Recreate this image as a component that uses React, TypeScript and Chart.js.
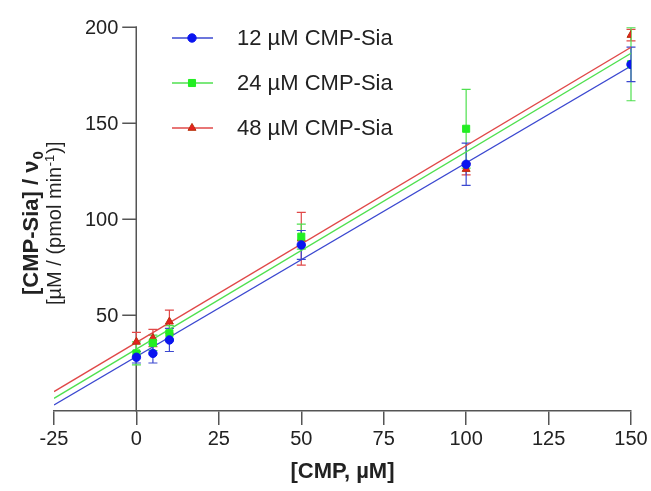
import { useEffect, useRef } from "react";
import { Chart, registerables } from "chart.js";

Chart.register(...registerables);

// ---- data ----
const concentrations = [0, 5, 10, 50, 100, 150];
const seriesLabels = ["12 µM CMP-Sia", "24 µM CMP-Sia", "48 µM CMP-Sia"];

const values12 = [28, 30, 37, 86.5, 128.5, 180.5];
const errors12 = [3, 5, 6, 7.5, 11, 9];
const values24 = [30, 35.5, 40.5, 90.8, 147, 180.6];
const errors24 = [6, 4, 4, 6.5, 20.5, 19];
const values48 = [36, 38, 46.5, 89.7, 126, 195.8];
const errors48 = [5, 4.5, 6, 13.7, 3, 3];

const fitX = [-25, 150];
const fit12 = [3.1, 179.7];
const fit24 = [6.6, 186.3];
const fit48 = [10.1, 189.4];

const xTicks = [-25, 0, 25, 50, 75, 100, 125, 150];
const yTicks = [50, 100, 150, 200];
const yAxisCrossesAt = 0;

const xTitle = "[CMP, µM]";
const yTitleMain = "[CMP-Sia] / ν";
const yTitleMainSub = "0";
const yTitleUnitA = "[µM / (pmol min";
const yTitleUnitSup = "-1";
const yTitleUnitB = ")]";

// ---- styles ----
const FONT = "'Liberation Sans', Arial, Helvetica, sans-serif";
const markerFill = ["#0a14f0", "#22ee22", "#e82020"];
const markerBorder = ["#0a14f0", "#22ee22", "#b8320c"];
const lineColor = ["#3b48d0", "#4fe04f", "#e04848"];
const errColor = ["#3b48d0", "#4fe04f", "#e04848"];
const pointStyles = ["circle", "rect", "triangle"] as const;
const pointRadii = [4.2, 5, 4.6];
const AXIS = "#555555";
const TEXT = "#222222";

const seriesValues = [values12, values24, values48];
const seriesErrors = [errors12, errors24, errors48];
const seriesFits = [fit12, fit24, fit48];

function drawMarker(ctx: CanvasRenderingContext2D, style: string, x: number, y: number, r: number) {
  ctx.beginPath();
  if (style === "circle") {
    ctx.arc(x, y, r, 0, Math.PI * 2);
  } else if (style === "rect") {
    const s = r * Math.SQRT1_2;
    ctx.rect(x - s, y - s, 2 * s, 2 * s);
  } else {
    const h = r * 1.5;
    ctx.moveTo(x, y - r);
    ctx.lineTo(x + r * 0.866, y - r + h);
    ctx.lineTo(x - r * 0.866, y - r + h);
    ctx.closePath();
  }
  ctx.fill();
  ctx.stroke();
}

// y axis crossing the x axis at x = 0 (drawn from the y scale)
const crossingYAxisPlugin = {
  id: "crossingYAxis",
  beforeDatasetsDraw(chart: any) {
    const { ctx } = chart;
    const xs = chart.scales.x;
    const ys = chart.scales.y;
    const ax = Math.round(xs.getPixelForValue(yAxisCrossesAt)) + 0.25;
    ctx.save();
    ctx.strokeStyle = AXIS;
    ctx.lineWidth = 1.5;
    ctx.beginPath();
    ctx.moveTo(ax, ys.getPixelForValue(ys.min) + 0.75);
    ctx.lineTo(ax, ys.getPixelForValue(ys.max) - 0.75);
    for (const v of yTicks) {
      const py = Math.round(ys.getPixelForValue(v)) + 0.25;
      ctx.moveTo(ax, py);
      ctx.lineTo(ax - 14, py);
    }
    ctx.stroke();
    ctx.fillStyle = TEXT;
    ctx.font = `20px ${FONT}`;
    ctx.textAlign = "right";
    ctx.textBaseline = "middle";
    for (const v of yTicks) {
      ctx.fillText(String(v), ax - 18, ys.getPixelForValue(v) + 1);
    }
    ctx.restore();
  },
};

const errorBarPlugin = {
  id: "errorBars",
  beforeDatasetsDraw(chart: any) {
    const { ctx } = chart;
    const xs = chart.scales.x;
    const ys = chart.scales.y;
    ctx.save();
    ctx.lineWidth = 1.2;
    for (let s = seriesValues.length - 1; s >= 0; s--) {
      ctx.strokeStyle = errColor[s];
      const vals = seriesValues[s];
      const errs = seriesErrors[s];
      for (let i = 0; i < concentrations.length; i++) {
        const x = xs.getPixelForValue(concentrations[i]);
        const yt = ys.getPixelForValue(vals[i] + errs[i]);
        const yb = ys.getPixelForValue(vals[i] - errs[i]);
        ctx.beginPath();
        ctx.moveTo(x, yt);
        ctx.lineTo(x, yb);
        ctx.moveTo(x - 4.5, yt);
        ctx.lineTo(x + 4.5, yt);
        ctx.moveTo(x - 4.5, yb);
        ctx.lineTo(x + 4.5, yb);
        ctx.stroke();
      }
    }
    ctx.restore();
  },
};

const legendPlugin = {
  id: "insideLegend",
  afterDraw(chart: any) {
    const { ctx } = chart;
    const rows = [38, 83, 128];
    ctx.save();
    for (let s = 0; s < seriesLabels.length; s++) {
      const y = rows[s];
      ctx.strokeStyle = lineColor[s];
      ctx.lineWidth = 1.3;
      ctx.beginPath();
      ctx.moveTo(172, y);
      ctx.lineTo(213, y);
      ctx.stroke();
      ctx.fillStyle = markerFill[s];
      ctx.strokeStyle = markerBorder[s];
      ctx.lineWidth = 1;
      drawMarker(ctx, pointStyles[s], 192, y, pointRadii[s]);
      ctx.fillStyle = TEXT;
      ctx.font = `22px ${FONT}`;
      ctx.textAlign = "left";
      ctx.textBaseline = "middle";
      ctx.fillText(seriesLabels[s], 237, y + 1);
    }
    ctx.restore();
  },
};

const yTitlePlugin = {
  id: "yTitle",
  afterDraw(chart: any) {
    const { ctx } = chart;
    ctx.save();
    ctx.fillStyle = TEXT;
    ctx.textAlign = "left";
    ctx.textBaseline = "alphabetic";
    // first line (bold)
    ctx.save();
    ctx.translate(38, 295);
    ctx.rotate(-Math.PI / 2);
    ctx.font = `bold 22px ${FONT}`;
    ctx.fillText(yTitleMain, 0, 0);
    const w1 = ctx.measureText(yTitleMain).width;
    ctx.font = `bold 15px ${FONT}`;
    ctx.fillText(yTitleMainSub, w1 + 1, 5);
    ctx.restore();
    // second line (regular)
    ctx.save();
    ctx.translate(61, 305);
    ctx.rotate(-Math.PI / 2);
    ctx.font = `20px ${FONT}`;
    ctx.fillText(yTitleUnitA, 0, 0);
    const wa = ctx.measureText(yTitleUnitA).width;
    ctx.font = `13px ${FONT}`;
    ctx.fillText(yTitleUnitSup, wa + 0.5, -7);
    const ws = ctx.measureText(yTitleUnitSup).width;
    ctx.font = `20px ${FONT}`;
    ctx.fillText(yTitleUnitB, wa + ws + 1.5, 0);
    ctx.restore();
    ctx.restore();
  },
};

export default function App() {
  const ref = useRef<HTMLCanvasElement | null>(null);

  useEffect(() => {
    if (!ref.current) return;
    const fitDatasets = seriesFits.map((fit, s) => ({
      type: "line" as const,
      label: seriesLabels[s] + " fit",
      data: fitX.map((x, i) => ({ x, y: fit[i] })),
      borderColor: lineColor[s],
      borderWidth: 1.3,
      pointRadius: 0,
      showLine: true,
      fill: false,
      order: 10 + s,
    }));
    const pointDatasets = seriesValues.map((vals, s) => ({
      type: "scatter" as const,
      label: seriesLabels[s],
      data: concentrations.map((x, i) => ({ x, y: vals[i] })),
      backgroundColor: markerFill[s],
      borderColor: markerBorder[s],
      borderWidth: 1,
      pointStyle: pointStyles[s],
      pointRadius: pointRadii[s],
      showLine: false,
      order: s,
    }));

    const chart = new Chart(ref.current, {
      type: "scatter",
      data: { datasets: [...pointDatasets, ...fitDatasets] as any },
      options: {
        animation: false,
        responsive: false,
        events: [],
        layout: { padding: { left: 54, top: 27, right: 20, bottom: 0 } },
        plugins: {
          legend: { display: false },
          tooltip: { enabled: false },
        },
        scales: {
          x: {
            type: "linear",
            position: "bottom",
            min: -25,
            max: 150,
            afterBuildTicks: (scale: any) => {
              scale.ticks = xTicks.map((v) => ({ value: v }));
            },
            afterFit: (scale: any) => {
              scale.height = 80;
            },
            ticks: {
              color: TEXT,
              font: { family: FONT, size: 20 },
              padding: 2,
              maxRotation: 0,
              autoSkip: false,
            },
            grid: {
              display: true,
              drawOnChartArea: false,
              drawTicks: true,
              tickLength: 14,
              color: AXIS,
              lineWidth: 1.5,
            },
            border: { display: true, color: AXIS, width: 1.5 },
            title: {
              display: true,
              text: xTitle,
              color: TEXT,
              font: { family: FONT, size: 22, weight: "bold" },
              padding: { top: 0, bottom: 6 },
            },
          },
          y: {
            type: "linear",
            display: false,
            min: 0,
            max: 200,
          },
        },
      },
      plugins: [crossingYAxisPlugin, errorBarPlugin, legendPlugin, yTitlePlugin],
    });
    return () => chart.destroy();
  }, []);

  return (
    <div style={{ position: "absolute", left: 0, top: 0, width: 651, height: 491, background: "#ffffff" }}>
      <canvas ref={ref} width={651} height={491} style={{ display: "block", width: 651, height: 491 }} />
    </div>
  );
}
